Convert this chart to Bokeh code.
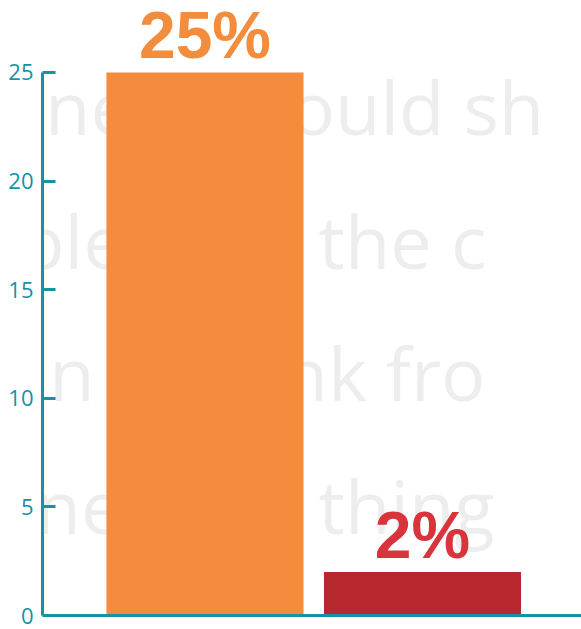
from bokeh.plotting import figure
from bokeh.models import Range1d, FixedTicker, ColumnDataSource, Label, Span
from bokeh.core.properties import value
from bokeh.embed import file_html
from bokeh.resources import INLINE

# ---- data ----
categories = ["A", "B"]
values = [25, 2]
value_labels = ["25%", "2%"]
bar_colors = ["#F58B3D", "#B8292F"]
label_colors = ["#F28D3E", "#D8343C"]
y_ticks = [0, 5, 10, 15, 20, 25]

# decorative background handwriting (text, screen x, screen baseline y)
decor_text = ["one", "ould sh", "ible", "the c", "in", "nk fro", "ne", "thing"]
decor_sx = [0, 290, 0, 318, 30, 282, 35, 318]
decor_sy = [106, 106, 240, 240, 372, 372, 505, 505]

TEAL = "#1592A6"

X0, X1 = 0.253, 2.731
Y0, Y1 = -0.092, 28.31

p = figure(width=581, height=629,
           x_range=Range1d(X0, X1), y_range=Range1d(Y0, Y1),
           output_backend="svg", toolbar_location=None,
           min_border_left=42, min_border_right=0,
           min_border_top=0, min_border_bottom=12)
p.xgrid.visible = False
p.ygrid.visible = False
p.outline_line_color = None
p.xaxis.visible = False
p.background_fill_color = "white"
p.border_fill_color = "white"

# background handwriting (decoration, beneath the bars)
px_per_x = 539 / (X1 - X0)
px_per_y = 617 / (Y1 - Y0)
for t, sx, sy in zip(decor_text, decor_sx, decor_sy):
    lab = Label(x=X0 + (sx - 42) / px_per_x, y=(615 - sy) / px_per_y, text=t,
                text_font="Open Sans", text_font_size="74px",
                text_color="#EDEDED", text_baseline="alphabetic", level="underlay")
    p.add_layout(lab)

xs = [i + 1 for i in range(len(categories))]
src = ColumnDataSource(dict(x=xs, top=values, color=bar_colors,
                            label=value_labels, lcolor=label_colors))

p.vbar(x="x", top="top", bottom=0, width=0.906, color="color", line_color=None, source=src)
p.text(x="x", y="top", text="label", text_color="lcolor", source=src,
       text_align="center", text_baseline="bottom", y_offset=0,
       text_font=value("Liberation Sans"), text_font_style="bold", text_font_size="66px")

p.add_layout(Span(location=0, dimension="width", line_color=TEAL, line_width=3))

ax = p.yaxis[0]
ax.bounds = (0, 25)
ax.ticker = FixedTicker(ticks=y_ticks)
ax.minor_tick_line_color = None
ax.major_tick_in = 13
ax.major_tick_out = 0
ax.major_tick_line_width = 3
ax.major_tick_line_color = TEAL
ax.axis_line_color = TEAL
ax.axis_line_width = 3
ax.major_label_text_color = TEAL
ax.major_label_text_font = "Open Sans"
ax.major_label_text_font_size = "22px"
ax.major_label_standoff = 9

open("out.html", "w").write(file_html(p, INLINE))
